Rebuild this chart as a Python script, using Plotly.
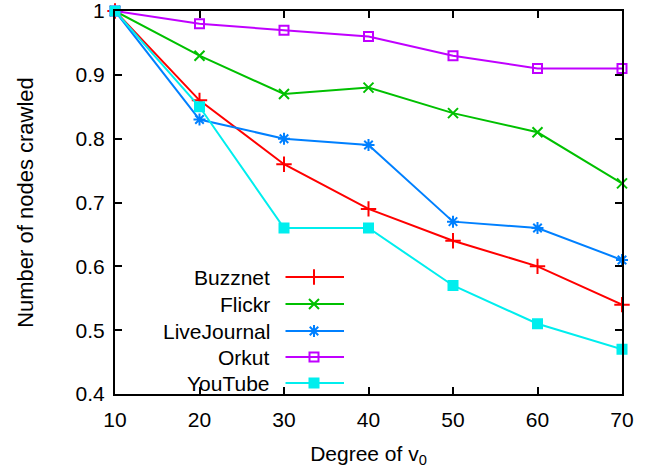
import plotly.graph_objects as go

degrees = [10, 20, 30, 40, 50, 60, 70]
buzznet = [1.0, 0.86, 0.76, 0.69, 0.64, 0.60, 0.54]
flickr = [1.0, 0.93, 0.87, 0.88, 0.84, 0.81, 0.73]
livejournal = [1.0, 0.83, 0.80, 0.79, 0.67, 0.66, 0.61]
orkut = [1.0, 0.98, 0.97, 0.96, 0.93, 0.91, 0.91]
youtube = [1.0, 0.85, 0.66, 0.66, 0.57, 0.51, 0.47]
y_ticks = [0.4, 0.5, 0.6, 0.7, 0.8, 0.9, 1.0]
y_ticktext = ["0.4", "0.5", "0.6", "0.7", "0.8", "0.9", "1"]

names = ["Buzznet", "Flickr", "LiveJournal", "Orkut", "YouTube"]
series = [buzznet, flickr, livejournal, orkut, youtube]
colors = ["#FF0000", "#00C000", "#0080FF", "#C000FF", "#00EEEE"]
symbols = ["cross-thin", "x-thin", "asterisk", "square-open", "square"]
sizes = [11, 10, 10, 9, 9]

FONT = "Liberation Sans"
L, R, T, B = 115, 28, 11, 79
W, H = 650, 473
pw, ph = W - L - R, H - T - B

fig = go.Figure()
for n, s, c, sym, sz in zip(names, series, colors, symbols, sizes):
    fig.add_trace(go.Scatter(
        x=degrees, y=s, mode="lines+markers", name=n,
        line=dict(color=c, width=2),
        marker=dict(symbol=sym, size=sz, color=c, line=dict(color=c, width=2)),
        showlegend=False, cliponaxis=False,
    ))

# manual gnuplot-style key (text on the left, sample on the right)
row_px = [277, 304, 331, 357, 383]
x0_px, x1_px, xm_px, xt_px = 285.5, 344, 314, 272


def px2x(px):
    return (px - L) / pw


def py2y(py):
    return (H - B - py) / ph


for n, c, sym, sz, ry in zip(names, colors, symbols, sizes, row_px):
    yy = py2y(ry)
    fig.add_trace(go.Scatter(
        x=[px2x(x0_px), px2x(x1_px)], y=[yy, yy], mode="lines",
        line=dict(color=c, width=2), xaxis="x2", yaxis="y2",
        showlegend=False, hoverinfo="skip"))
    fig.add_trace(go.Scatter(
        x=[px2x(xm_px)], y=[yy], mode="markers",
        marker=dict(symbol=sym, size=sz, color=c, line=dict(color=c, width=2)),
        xaxis="x2", yaxis="y2", showlegend=False, hoverinfo="skip"))
    fig.add_annotation(x=px2x(xt_px), y=yy, xref="x2", yref="y2", text=n,
                       showarrow=False, xanchor="right", yanchor="middle",
                       font=dict(family=FONT, size=21, color="black"))

axis_common = dict(
    showline=True, linecolor="black", linewidth=2, mirror="ticks",
    ticks="inside", ticklen=7, tickwidth=1.5, tickcolor="black",
    showgrid=False, zeroline=False, automargin=False,
    ticklabeloverflow="allow",
    tickfont=dict(family=FONT, size=21, color="black"),
)

fig.update_layout(
    width=W, height=H,
    margin=dict(l=L, r=R, t=T, b=B),
    plot_bgcolor="white", paper_bgcolor="white",
    xaxis=dict(range=[10, 70], tickvals=degrees, ticklabelstandoff=6,
               title=dict(text="Degree of v<sub>0</sub>", standoff=16,
                          font=dict(family=FONT, size=21, color="black")),
               **axis_common),
    yaxis=dict(range=[0.4, 1.0], tickvals=y_ticks, ticktext=y_ticktext,
               ticklabelstandoff=4,
               title=dict(text="Number of nodes crawled", standoff=36,
                          font=dict(family=FONT, size=22, color="black")),
               **axis_common),
    xaxis2=dict(range=[0, 1], overlaying="x", visible=False, anchor="y2"),
    yaxis2=dict(range=[0, 1], overlaying="y", visible=False, anchor="x2"),
    showlegend=False,
)

fig.write_html("out.html", config={"displayModeBar": False},
               post_script="document.body.style.margin='0';document.body.style.padding='0';")
